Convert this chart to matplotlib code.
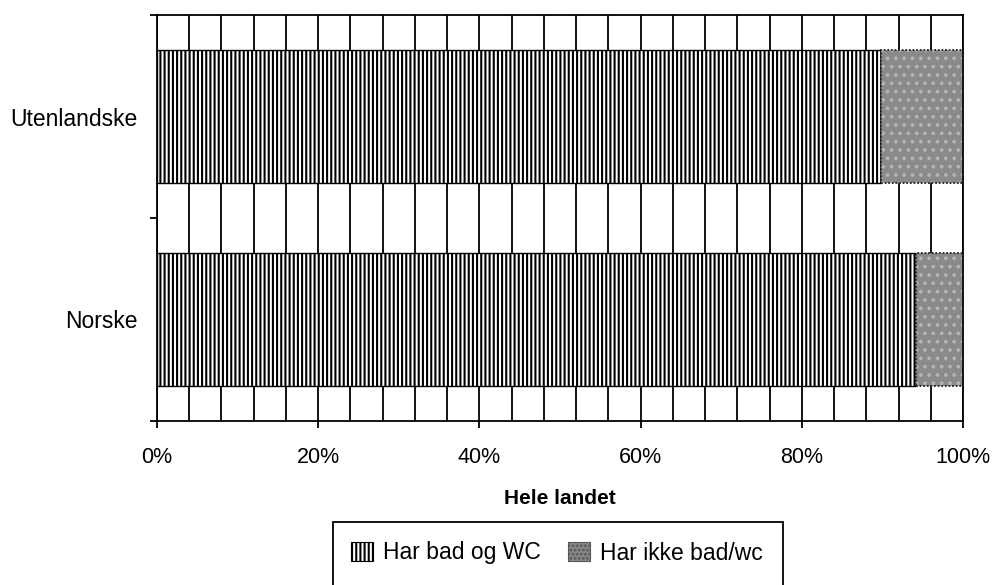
import matplotlib
matplotlib.use("Agg")
import matplotlib.pyplot as plt
from matplotlib.patches import Rectangle, Patch

plt.rcParams['font.family'] = ['Liberation Sans', 'DejaVu Sans']
plt.rcParams['hatch.linewidth'] = 1.5

categories = ["Norske", "Utenlandske"]
har_bad_wc = [94.2, 89.8]
har_ikke = [5.8, 10.2]
series_names = ["Har bad og WC", "Har ikke bad/wc"]
xticks = [0, 20, 40, 60, 80, 100]
xticklabels = ["0%", "20%", "40%", "60%", "80%", "100%"]
xlabel = "Hele landet"

fig = plt.figure(figsize=(9.94, 5.85), dpi=100)
ax = fig.add_axes([157/994, 1-421/585, 806/994, 406/585])

ypos = list(range(len(categories)))
bar_h = 0.66

# vertical grid every 4%
ax.set_xticks(range(0, 101, 4), minor=True)
ax.xaxis.grid(True, which='both', color='black', linewidth=1.3)
ax.set_axisbelow(True)

ax.barh(ypos, har_bad_wc, height=bar_h, color='white', edgecolor='black',
        hatch='||||', linewidth=1.0, zorder=2)
ax.barh(ypos, har_ikke, left=har_bad_wc, height=bar_h, color='#8a8a8a',
        edgecolor='#b4b4b4', hatch='..', linewidth=0, zorder=2)
ax.barh(ypos, har_ikke, left=har_bad_wc, height=bar_h, fill=False,
        edgecolor='#222222', linewidth=1.3, linestyle=(0, (1, 1)), zorder=3)

ax.set_xlim(0, 100)
ax.set_ylim(-0.5, len(categories) - 0.5)
ax.set_xticks(xticks)
ax.set_xticklabels(xticklabels, fontsize=15.5)
ax.tick_params(axis='x', which='major', direction='out', length=5, width=1.3, pad=14)
ax.tick_params(axis='x', which='minor', length=0)

ax.set_yticks(ypos)
ax.set_yticklabels(categories, fontsize=16.5)
ax.set_yticks([-0.5, 0.5, 1.5], minor=True)
ax.tick_params(axis='y', which='major', length=0, pad=14)
ax.tick_params(axis='y', which='minor', length=5, width=1.3, direction='out')

for s in ax.spines.values():
    s.set_linewidth(1.3)
    s.set_color('black')

ax.set_xlabel(xlabel, fontsize=15, fontweight='bold', labelpad=15)

# legend
handles = [Patch(facecolor='white', edgecolor='black', hatch='||||', linewidth=0.8),
           Patch(facecolor='#8a8a8a', edgecolor='#555555', hatch='....', linewidth=0.8)]
fig.legend(handles, series_names, loc='center', bbox_to_anchor=(557/994, 1-553/585),
           ncol=2, frameon=False, fontsize=16.5, handlelength=0.95, handleheight=0.9,
           handletextpad=0.45, columnspacing=1.2, borderaxespad=0)
fig.patches.append(Rectangle((333/994, -0.05), 450/994, 0.05 + (585-522)/585,
                             transform=fig.transFigure, fill=False,
                             edgecolor='black', linewidth=1.3, figure=fig))

fig.savefig("out.png", dpi=100)
